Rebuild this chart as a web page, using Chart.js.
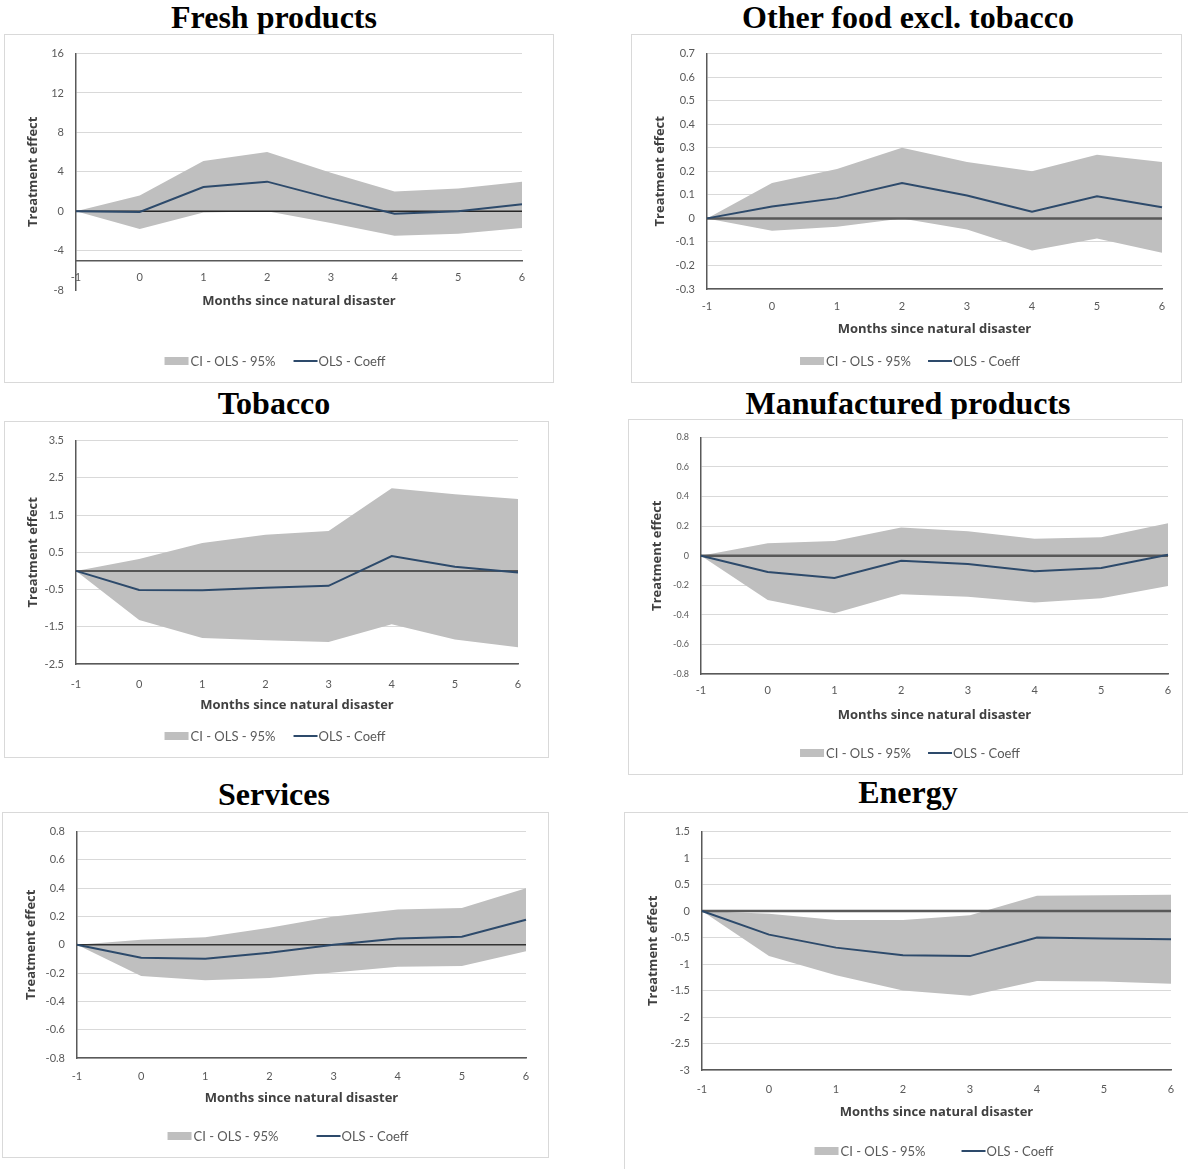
<!DOCTYPE html>
<html>
<head>
<meta charset="utf-8">
<script src="https://cdn.jsdelivr.net/npm/chart.js@4.4.0/dist/chart.umd.min.js"></script>
<style>
  html, body { margin: 0; padding: 0; background: #fff; }
  body { width: 1188px; height: 1169px; position: relative; overflow: hidden; font-family: Lato, sans-serif; }
  .ptitle { position: absolute; width: 560px; text-align: center; font: bold 32px "Liberation Serif", "Times New Roman", serif; line-height: 32px; color: #000; }
  .panel { position: absolute; background: #fff; box-shadow: 0 0 0 1px #d9d9d9; }
  .panel canvas { position: absolute; left: 0; top: 0; }
  .legend { position: absolute; display: flex; align-items: center; transform: translate(-50%, -50%); white-space: nowrap; font-size: 13px; color: #595959; }
  .lg-box { display: inline-block; width: 24px; height: 8px; background: #bfbfbf; margin-right: 2px; }
  .lg-line { display: inline-block; width: 24px; height: 2px; background: #2d4a6b; margin-right: 1px; }
</style>
</head>
<body>
<script>
// Months relative to the disaster (x axis)
const months = [-1, 0, 1, 2, 3, 4, 5, 6];

// Fresh products
const freshCoef  = [0, -0.07, 2.45, 3.0, 1.3, -0.25, 0, 0.7];
const freshUpper = [0, 1.6, 5.1, 6.0, 3.9, 2.0, 2.3, 3.0];
const freshLower = [0, -1.8, -0.12, 0, -1.2, -2.5, -2.3, -1.7];
const freshAxis  = [-8, 16, 4];

// Other food excl. tobacco
const otherCoef  = [0, 0.05, 0.086, 0.15, 0.097, 0.028, 0.094, 0.047];
const otherUpper = [0, 0.15, 0.21, 0.30, 0.24, 0.20, 0.27, 0.24];
const otherLower = [0, -0.053, -0.036, 0, -0.047, -0.136, -0.085, -0.146];
const otherAxis  = [-0.3, 0.7, 0.1];

// Tobacco
const tobaccoCoef  = [0, -0.51, -0.52, -0.45, -0.40, 0.40, 0.11, -0.04];
const tobaccoUpper = [0, 0.32, 0.75, 0.97, 1.07, 2.22, 2.06, 1.93];
const tobaccoLower = [0, -1.32, -1.80, -1.86, -1.91, -1.43, -1.84, -2.05];
const tobaccoAxis  = [-2.5, 3.5, 1];

// Manufactured products
const manufCoef  = [0, -0.11, -0.15, -0.034, -0.056, -0.105, -0.083, 0.007];
const manufUpper = [0, 0.085, 0.10, 0.19, 0.165, 0.114, 0.125, 0.22];
const manufLower = [0, -0.30, -0.39, -0.26, -0.277, -0.317, -0.288, -0.205];
const manufAxis  = [-0.8, 0.8, 0.2];

// Services
const servCoef  = [0, -0.092, -0.099, -0.057, 0, 0.044, 0.057, 0.177];
const servUpper = [0, 0.035, 0.053, 0.12, 0.20, 0.25, 0.26, 0.40];
const servLower = [0, -0.22, -0.25, -0.235, -0.195, -0.156, -0.15, -0.046];
const servAxis  = [-0.8, 0.8, 0.2];

// Energy
const energyCoef  = [0, -0.445, -0.69, -0.835, -0.85, -0.50, -0.52, -0.53];
const energyUpper = [0, -0.05, -0.17, -0.17, -0.08, 0.29, 0.30, 0.31];
const energyLower = [0, -0.85, -1.21, -1.50, -1.60, -1.32, -1.33, -1.37];
const energyAxis  = [-3, 1.5, 0.5];

const CI_LABEL   = 'CI - OLS - 95%';
const COEF_LABEL = 'OLS - Coeff';
const CI_COLOR   = '#bfbfbf';
const COEF_COLOR = '#2d4a6b';
const AXIS_TITLE_FONT = { family: '"Open Sans", Lato, sans-serif', size: 13, weight: 'bold' };

Chart.defaults.font.family = 'Lato, "Open Sans", sans-serif';

// box: [left, top, width, height]; area: [left, right, top, bottom] inside the box
// legend: [centre x, centre y, gap between items]
const panels = [
  { title: 'Fresh products', tx: -6, ty: 1, coef: freshCoef, upper: freshUpper, lower: freshLower, axis: freshAxis,
    cross: -5, box: [5, 35, 548, 347], area: [71, 517, 14, 255], tickPad: 10, axisH: 49,
    legend: [270, 326, 18], zero: ['#262626', 1.5], ySize: 11 },
  { title: 'Other food excl. tobacco', tx: 628, ty: 1, coef: otherCoef, upper: otherUpper, lower: otherLower, axis: otherAxis,
    box: [632, 35, 549, 347], area: [75, 530, 15, 254], tickPad: 11, axisH: 48,
    legend: [278, 326, 17], zero: ['#595959', 2.5], ySize: 11 },
  { title: 'Tobacco', tx: -6, ty: 387, coef: tobaccoCoef, upper: tobaccoUpper, lower: tobaccoLower, axis: tobaccoAxis,
    box: [5, 422, 543, 335], area: [71, 513, 14, 242], tickPad: 14, axisH: 49,
    legend: [270, 314, 18], zero: ['#333333', 1.5], ySize: 11 },
  { title: 'Manufactured products', tx: 628, ty: 387, coef: manufCoef, upper: manufUpper, lower: manufLower, axis: manufAxis,
    box: [629, 420, 553, 354], area: [72, 539, 15, 254], tickPad: 10, axisH: 49,
    legend: [281, 333, 17], zero: ['#595959', 2.5], ySize: 9 },
  { title: 'Services', tx: -6, ty: 778, coef: servCoef, upper: servUpper, lower: servLower, axis: servAxis,
    box: [3, 813, 545, 344], area: [74, 523, 15, 245], tickPad: 12, axisH: 48,
    legend: [285, 323, 38], zero: ['#333333', 1.5], ySize: 11 },
  { title: 'Energy', tx: 628, ty: 776, coef: energyCoef, upper: energyUpper, lower: energyLower, axis: energyAxis,
    box: [625, 813, 580, 370], area: [77, 546, 16, 257], tickPad: 13, axisH: 50,
    legend: [309, 338, 36], zero: ['#595959', 2.5], ySize: 11 }
];

// Horizontal reference line at y = 0, drawn over the CI band but under the coefficient line
const zeroLine = {
  id: 'zeroLine',
  beforeDatasetDraw(chart, args, opts) {
    if (args.index !== 0) return;
    const { ctx, chartArea, scales: { y } } = chart;
    const py = y.getPixelForValue(0);
    ctx.save();
    ctx.strokeStyle = opts.color;
    ctx.lineWidth = opts.width;
    ctx.beginPath();
    ctx.moveTo(chartArea.left, py);
    ctx.lineTo(chartArea.right, py);
    ctx.stroke();
    ctx.restore();
  }
};

function buildPanel(p) {
  const [bx, by, bw, bh] = p.box;
  const [l, r, t, b] = p.area;
  const [yMin, yMax, yStep] = p.axis;
  const crossed = p.cross !== undefined;

  const title = document.createElement('div');
  title.className = 'ptitle';
  title.style.left = p.tx + 'px';
  title.style.top = p.ty + 'px';
  title.textContent = p.title;
  document.body.appendChild(title);

  const wrap = document.createElement('div');
  wrap.className = 'panel';
  wrap.style.cssText = `left:${bx}px;top:${by}px;width:${bw}px;height:${bh}px;`;
  const canvas = document.createElement('canvas');
  canvas.width = bw;
  canvas.height = bh;
  wrap.appendChild(canvas);

  const [lx, ly, gap] = p.legend;
  wrap.insertAdjacentHTML('beforeend', `
    <div class="legend" style="left:${lx}px;top:${ly}px;">
      <span class="lg-box"></span><span>${CI_LABEL}</span>
      <span class="lg-line" style="margin-left:${gap}px"></span><span>${COEF_LABEL}</span>
    </div>`);
  document.body.appendChild(wrap);

  new Chart(canvas.getContext('2d'), {
    type: 'line',
    data: {
      labels: months,
      datasets: [
        { label: COEF_LABEL, data: p.coef, borderColor: COEF_COLOR, borderWidth: 2, fill: false },
        { label: CI_LABEL, data: p.upper, borderColor: 'transparent', borderWidth: 0, backgroundColor: CI_COLOR, fill: '+1' },
        { label: 'CI lower', data: p.lower, borderColor: 'transparent', borderWidth: 0, fill: false }
      ]
    },
    plugins: [zeroLine],
    options: {
      responsive: false,
      animation: false,
      layout: { padding: { left: 0, top: t, right: bw - r, bottom: bh - b - (crossed ? 0 : p.axisH) } },
      elements: { point: { radius: 0 }, line: { tension: 0 } },
      plugins: {
        legend: { display: false },
        tooltip: { enabled: false },
        zeroLine: { color: p.zero[0], width: p.zero[1] }
      },
      scales: {
        x: {
          position: crossed ? { y: p.cross } : 'bottom',
          grid: { display: false, drawTicks: false },
          border: { display: true, color: '#595959', width: 1.5 },
          ticks: { color: '#595959', font: { size: 11 }, padding: p.tickPad, maxRotation: 0, autoSkip: false },
          title: { display: true, text: 'Months since natural disaster', color: '#404040',
                   font: AXIS_TITLE_FONT, padding: 0 },
          afterFit: s => { s.height = p.axisH; }
        },
        y: {
          min: yMin,
          max: yMax,
          ticks: { stepSize: yStep, color: '#595959', font: { size: p.ySize }, padding: 12,
                   callback: v => String(+v.toFixed(2)) },
          grid: { drawTicks: false, color: c => (crossed && c.tick.value < p.cross) ? 'rgba(0,0,0,0)' : '#d9d9d9' },
          border: { color: '#595959', width: 1.5 },
          title: { display: true, text: 'Treatment effect', color: '#404040',
                   font: AXIS_TITLE_FONT, padding: { top: 20, bottom: 0 } },
          afterFit: s => { s.width = l; }
        }
      }
    }
  });
}

panels.forEach(buildPanel);
</script>
</body>
</html>
